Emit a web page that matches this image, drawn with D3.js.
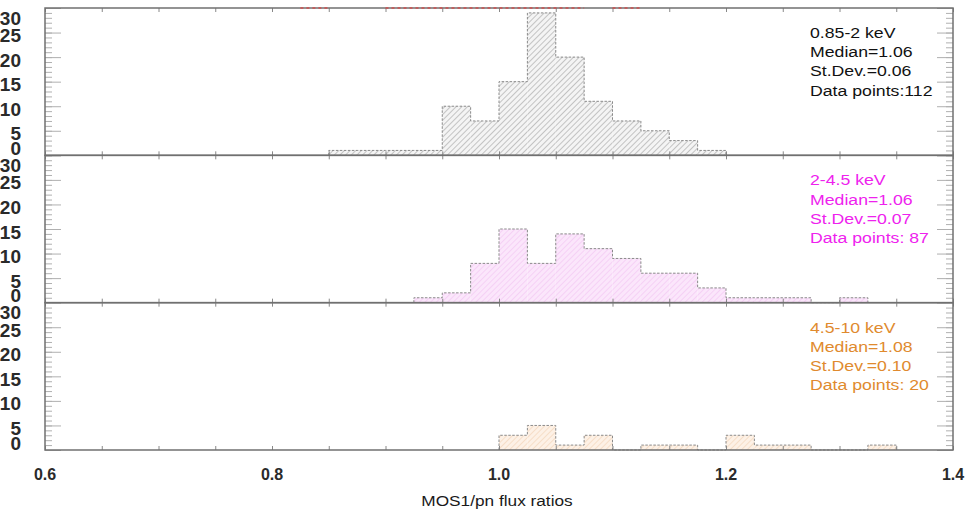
<!DOCTYPE html>
<html>
<head>
<meta charset="utf-8">
<script src="https://cdn.jsdelivr.net/npm/d3@7"></script>
<style>
  body { margin: 0; background: #fff; }
  text { font-family: "Liberation Sans", Arial, Helvetica, sans-serif; }
</style>
</head>
<body>
<div id="chart"></div>
<script>
//// DATA ////

// histogram bins are 0.025 wide, listed by left edge
var softBins = [0.85, 0.875, 0.9, 0.925, 0.95, 0.975, 1.0, 1.025, 1.05, 1.075, 1.1, 1.125, 1.15, 1.175];
var softCounts = [1, 1, 1, 1, 10, 7, 15, 29, 20, 11, 7, 5, 3, 1];

var mediumBins = [0.925, 0.95, 0.975, 1.0, 1.025, 1.05, 1.075, 1.1, 1.125, 1.15, 1.175, 1.2, 1.225, 1.25, 1.275, 1.3];
var mediumCounts = [1, 2, 8, 15, 8, 14, 11, 9, 6, 6, 3, 1, 1, 1, 0, 1];

var hardBins = [1.0, 1.025, 1.05, 1.075, 1.1, 1.125, 1.15, 1.175, 1.2, 1.225, 1.25, 1.275, 1.3, 1.325];
var hardCounts = [3, 5, 1, 3, 0, 1, 1, 0, 3, 1, 1, 0, 0, 1];

var binWidth = 0.025;

// bottoms of the red bars of a panel cut off above the figure
var cutOffRedBins = [[0.825, 0.85], [0.9, 1.075], [1.1, 1.125]];

var softLabels = ["0.85-2 keV", "Median=1.06", "St.Dev.=0.06", "Data points:112"];
var mediumLabels = ["2-4.5 keV", "Median=1.06", "St.Dev.=0.07", "Data points: 87"];
var hardLabels = ["4.5-10 keV", "Median=1.08", "St.Dev.=0.10", "Data points: 20"];

var xTickLabels = [0.6, 0.8, 1.0, 1.2, 1.4];
var yTickLabels = [0, 5, 10, 15, 20, 25, 30];

//// SET UP ////

var svgWidth = 965;
var svgHeight = 511;

var margin = { top: 8, right: 12, bottom: 61, left: 45 };
var width = svgWidth - margin.left - margin.right;
var height = svgHeight - margin.top - margin.bottom;
var panelHeight = height / 3;

var svg = d3.select("#chart")
  .append("svg")
  .attr("width", svgWidth)
  .attr("height", svgHeight);

var defs = svg.append("defs");

// diagonal hatch patterns
function hatch(id, bg, line) {
  var p = defs.append("pattern")
    .attr("id", id)
    .attr("patternUnits", "userSpaceOnUse")
    .attr("width", 4)
    .attr("height", 4)
    .attr("patternTransform", "rotate(45)");
  p.append("rect").attr("width", 4).attr("height", 4).attr("fill", bg);
  p.append("line")
    .attr("x1", 0).attr("y1", 0).attr("x2", 0).attr("y2", 4)
    .attr("stroke", line)
    .attr("stroke-width", 1.3);
}
hatch("hatchSoft", "#f4f4f4", "#a8a8a8");
hatch("hatchMedium", "#fbe6fb", "#f2c6f2");
hatch("hatchHard", "#fdf1e6", "#f3d4b8");

var chartGroup = svg.append("g")
  .attr("transform", `translate(${margin.left}, ${margin.top})`);

var xScale = d3.scaleLinear()
  .domain([0.6, 1.4])
  .range([0, width]);

var panels = [
  { bins: softBins, counts: softCounts, labels: softLabels, color: "#111111", fill: "url(#hatchSoft)" },
  { bins: mediumBins, counts: mediumCounts, labels: mediumLabels, color: "#ee22ee", fill: "url(#hatchMedium)" },
  { bins: hardBins, counts: hardCounts, labels: hardLabels, color: "#e08a2e", fill: "url(#hatchHard)" }
];

panels.forEach(function(panel, i) {
  var g = chartGroup.append("g")
    .attr("transform", `translate(0, ${i * panelHeight})`);

  var yScale = d3.scaleLinear()
    .domain([0, 30])
    .range([panelHeight, 0]);

  // bars
  g.selectAll("rect.bar")
    .data(panel.bins.map((b, j) => ({ x0: b, n: panel.counts[j] })).filter(d => d.n > 0))
    .enter()
    .append("rect")
    .attr("class", "bar")
    .attr("x", d => xScale(d.x0))
    .attr("width", d => xScale(d.x0 + binWidth) - xScale(d.x0))
    .attr("y", d => yScale(d.n))
    .attr("height", d => yScale(0) - yScale(d.n))
    .attr("fill", panel.fill);

  // dashed step outline
  var pts = [[panel.bins[0], 0]];
  panel.bins.forEach((b, j) => pts.push([b, panel.counts[j]]));
  var last = panel.bins[panel.bins.length - 1] + binWidth;
  pts.push([last, panel.counts[panel.counts.length - 1]]);
  pts.push([last, 0]);

  var step = d3.line()
    .x(d => xScale(d[0]))
    .y(d => yScale(d[1]))
    .curve(d3.curveStepAfter);

  g.append("path")
    .attr("d", step(pts))
    .attr("fill", "none")
    .attr("stroke", "#8a8a8a")
    .attr("stroke-width", 1)
    .attr("stroke-dasharray", "2.5,1.5");

  // y axes: minor and major ticks on both sides
  var yMinor = d3.range(0, 31);
  var leftMinor = g.append("g")
    .call(d3.axisLeft(yScale).tickValues(yMinor).tickSize(-7).tickFormat(""));
  var rightMinor = g.append("g")
    .attr("transform", `translate(${width}, 0)`)
    .call(d3.axisRight(yScale).tickValues(yMinor).tickSize(-7).tickFormat(""));
  var leftMajor = g.append("g")
    .call(d3.axisLeft(yScale).tickValues(yTickLabels).tickSize(-16).tickPadding(24));
  var rightMajor = g.append("g")
    .attr("transform", `translate(${width}, 0)`)
    .call(d3.axisRight(yScale).tickValues(yTickLabels).tickSize(-16).tickFormat(""));

  [leftMinor, rightMinor, leftMajor, rightMajor].forEach(function(ax) {
    ax.select(".domain").remove();
    ax.selectAll("line").attr("stroke", "#b0b0b0").attr("stroke-width", 1);
  });

  leftMajor.selectAll("text")
    .attr("font-size", "19px")
    .attr("font-weight", "bold")
    .attr("fill", "#2a2a2a")
    .attr("dy", d => d === 0 ? "-1px" : d === 30 ? "16px" : "9px");

  // x ticks (every 0.05) on top and bottom edges
  var xMinor = d3.range(0, 17).map(k => 0.6 + k * 0.05);
  var bottomTicks = g.append("g")
    .attr("transform", `translate(0, ${panelHeight})`)
    .call(d3.axisBottom(xScale).tickValues(xMinor).tickSize(-4).tickFormat(""));
  var topTicks = g.append("g")
    .call(d3.axisTop(xScale).tickValues(xMinor).tickSize(-4).tickFormat(""));
  [bottomTicks, topTicks].forEach(function(ax) {
    ax.select(".domain").remove();
    ax.selectAll("line").attr("stroke", "#888").attr("stroke-width", 1);
  });

  // panel frame
  g.append("rect")
    .attr("x", 0)
    .attr("y", 0)
    .attr("width", width)
    .attr("height", panelHeight)
    .attr("fill", "none")
    .attr("stroke", "#707070")
    .attr("stroke-width", 1.5);

  // statistics text
  g.selectAll("text.stat")
    .data(panel.labels)
    .enter()
    .append("text")
    .attr("class", "stat")
    .attr("transform", (d, j) => `translate(${765}, ${30 + j * 19.2}) scale(1.22, 1)`)
    .attr("font-size", "14.5px")
    .attr("fill", panel.color)
    .text(d => d);
});

// red dashes left on the top edge by the cut-off panel
chartGroup.selectAll("line.cutoff")
  .data(cutOffRedBins)
  .enter()
  .append("line")
  .attr("class", "cutoff")
  .attr("x1", d => xScale(d[0]))
  .attr("x2", d => xScale(d[1]))
  .attr("y1", 0)
  .attr("y2", 0)
  .attr("stroke", "#d05050")
  .attr("stroke-width", 1.5)
  .attr("stroke-dasharray", "3,3");

// x tick labels
chartGroup.selectAll("text.xlab")
  .data(xTickLabels)
  .enter()
  .append("text")
  .attr("class", "xlab")
  .attr("x", d => xScale(d))
  .attr("y", height + 30)
  .attr("text-anchor", "middle")
  .attr("font-size", "16px")
  .attr("font-weight", "bold")
  .attr("fill", "#2a2a2a")
  .text(d => d.toFixed(1));

// x axis title
chartGroup.append("text")
  .attr("transform", `translate(${xScale(1.0) - 2}, ${height + 56}) scale(1.15, 1)`)
  .attr("text-anchor", "middle")
  .attr("font-size", "15px")
  .attr("fill", "#1a1a1a")
  .text("MOS1/pn flux ratios");
</script>
</body>
</html>
